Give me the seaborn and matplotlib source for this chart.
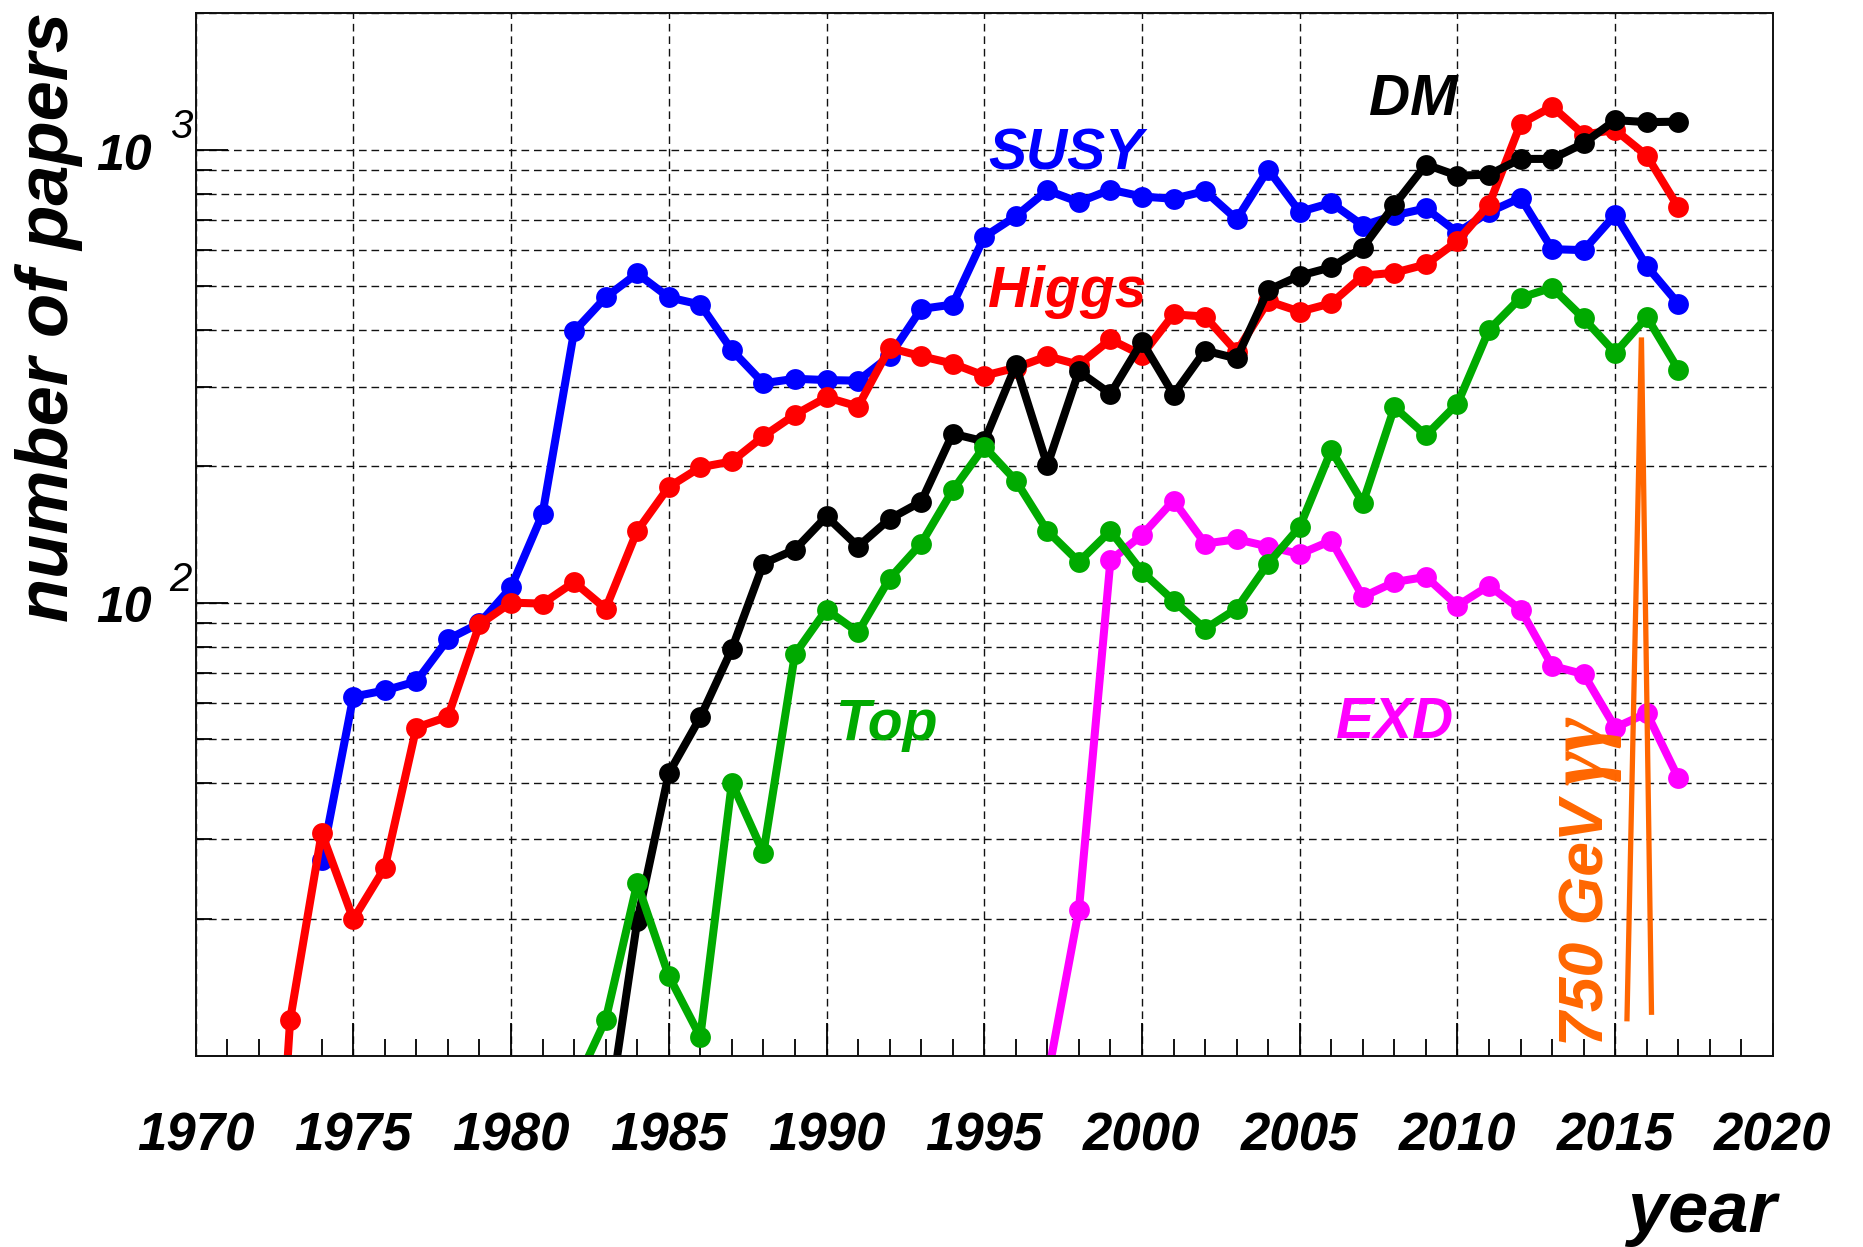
import numpy as np
import pandas as pd
import matplotlib
matplotlib.use("Agg")
import matplotlib.pyplot as plt
import matplotlib.transforms as mtransforms
from matplotlib.ticker import MultipleLocator, LogLocator, NullFormatter, FixedLocator
import seaborn as sns

sns.set_style("ticks")
plt.rcParams['font.family'] = ['Liberation Sans', 'DejaVu Sans']
plt.rcParams['font.style'] = 'italic'
plt.rcParams['font.weight'] = 'bold'
plt.rcParams['axes.labelweight'] = 'bold'
plt.rcParams['lines.scale_dashes'] = False
for key in ['text.color', 'axes.labelcolor', 'xtick.color', 'ytick.color', 'axes.edgecolor']:
    plt.rcParams[key] = 'black'

# ---------------- data ----------------
years = list(range(1970, 2018))
nan = np.nan

susy = [nan, nan, nan, nan, 27, 62, 64, 67, 83, 90,
        108, 157, 397, 472, 533, 472, 455, 361, 305, 312,
        310, 309, 350, 445, 455, 642, 713, 813, 766, 816,
        788, 779, 810, 702, 904, 729, 763, 680, 716, 742,
        656, 728, 783, 603, 600, 719, 553, 457]

higgs = [nan, nan, 1, 12, 31, 20, 26, 53, 56, 89.5,
         100, 99.5, 111, 97, 144, 180, 199, 205, 233, 260,
         284, 271, 365, 350, 337, 317, 330, 350, 335, 381,
         352, 433, 428, 358, 463, 439, 458, 527, 535, 558,
         628, 756, 1140, 1245, 1080, 1105, 970, 746]

dm = [nan] * 13 + [6.7, 19.8, 42, 55.8, 79, 122, 131,
                   155, 133, 153, 167, 236, 227, 334, 201, 324, 289,
                   377, 288, 360, 346, 490, 527, 550, 608, 755, 927,
                   876, 881, 954, 954, 1033, 1162, 1150, 1153]

top = [nan] * 12 + [8.5, 12, 24, 15, 11, 40, 28, 77,
                    96.5, 86, 113, 135, 177, 221, 186, 144, 123, 144,
                    117, 101, 87.5, 97, 122, 147, 217, 166, 270, 234,
                    275, 400, 471, 496, 424, 356, 427, 327]

exd = [nan] * 27 + [8.9, 21, 124,
                    141, 168, 135, 138, 133, 128, 137, 103, 111, 114,
                    98.5, 109, 96.5, 72.5, 69.5, 53, 57, 41]

spike_years = [2015.37, 2015.83, 2016.15]
spike_values = [11.9, 385, 12.3]

series_names = ['SUSY', 'Higgs', 'DM', 'EXD', 'Top']
series_values = [susy, higgs, dm, exd, top]
series_colors = ['#0000FF', '#FF0000', '#000000', '#FF00FF', '#00AA00']

x_tick_years = list(range(1970, 2021, 5))
y_label_exponents = [2, 3]

# long-form table
rows = []
for name, vals in zip(series_names, series_values):
    for yr, v in zip(years, vals):
        if not np.isnan(v):
            rows.append((name, yr, v))
df = pd.DataFrame(rows, columns=['topic', 'year', 'papers'])

# ---------------- figure ----------------
fig = plt.figure(figsize=(18.63, 12.47), dpi=100)
fig.patch.set_facecolor('white')
ax = fig.add_axes([0.10494, 0.15349, 0.84675, 0.83585])

ax.set_yscale('log')
ax.set_xlim(1970, 2020)
ax.set_ylim(10, 2000)

# grid
grid_kw = dict(color='#111111', linewidth=1.0, linestyle=(0, (5.5, 3.5)))
ax.xaxis.set_major_locator(FixedLocator(x_tick_years))
ax.xaxis.set_minor_locator(MultipleLocator(1))
ax.yaxis.set_major_locator(LogLocator(base=10, numticks=10))
ax.yaxis.set_minor_locator(LogLocator(base=10, subs=np.arange(2, 10), numticks=50))
ax.grid(True, which='major', axis='x', **grid_kw)
ax.grid(True, which='both', axis='y', **grid_kw)
ax.set_axisbelow(True)

sns.lineplot(data=df, x='year', y='papers', hue='topic', hue_order=series_names,
             palette=dict(zip(series_names, series_colors)), estimator=None,
             errorbar=None, marker='o', markersize=15, markeredgewidth=0,
             linewidth=5.8, legend=False, ax=ax)

sns.lineplot(x=spike_years, y=spike_values, color='#FF6600', linewidth=3.8,
             sort=False, estimator=None, errorbar=None, ax=ax,
             solid_joinstyle='bevel', solid_capstyle='butt')

# ticks
ax.tick_params(axis='x', which='major', direction='in', length=24, width=1.3,
               pad=40, labelsize=38, top=False, color='black', labelcolor='black')
ax.tick_params(axis='x', which='minor', direction='in', length=12, width=1.3,
               top=False, color='black')
ax.tick_params(axis='y', which='major', direction='in', length=23, width=1.3,
               right=False, color='black')
ax.tick_params(axis='y', which='minor', direction='in', length=11.5, width=1.3,
               right=False, color='black')
ax.set_xticklabels([str(y) for y in x_tick_years])
ax.yaxis.set_major_formatter(NullFormatter())
ax.yaxis.set_minor_formatter(NullFormatter())

for sp in ax.spines.values():
    sp.set_linewidth(1.4)
    sp.set_color('#111111')

# y tick labels 10^n
blend = mtransforms.blended_transform_factory(ax.transAxes, ax.transData)
for e in y_label_exponents:
    ax.annotate('10', xy=(0, 10 ** e), xycoords=blend, xytext=(-31.3, -14.3),
                textcoords='offset points', ha='right', va='baseline',
                fontsize=36, fontweight='bold', fontstyle='italic', color='black')
    ax.annotate(str(e), xy=(0, 10 ** e), xycoords=blend, xytext=(-18.6, 8.3),
                textcoords='offset points', ha='left', va='baseline',
                fontsize=29, fontweight='normal', fontstyle='italic', color='black')

# axis titles
ax.set_ylabel('number of papers', fontsize=52, loc='top', color='black')
ax.yaxis.set_label_coords(-0.0713, 1.0013)
ax.set_xlabel('year', fontsize=52, loc='right', color='black')
ax.xaxis.set_label_coords(1.0025, -0.1185)

# series labels
label_kw = dict(fontsize=41, fontweight='bold', fontstyle='italic',
                ha='left', va='baseline')
ax.text(1995.12, 904, 'SUSY', color='#0000FF', **label_kw)
ax.text(1995.12, 450, 'Higgs', color='#FF0000', **label_kw)
ax.text(2007.2, 1190, 'DM', color='#000000', **label_kw)
ax.text(1990.3, 49.7, 'Top', color='#00AA00', **label_kw)
ax.text(2006.15, 50.2, 'EXD', color='#FF00FF', **label_kw)

ax.text(2014.64, 10.5, '750 GeV', color='#FF6600', fontsize=45, fontweight='bold',
        fontstyle='italic', rotation=90, rotation_mode='anchor',
        ha='left', va='baseline')
ax.text(2014.64, 39.5, 'γγ', color='#FF6600', fontsize=60, fontweight='bold',
        fontstyle='italic', family=['Liberation Serif', 'DejaVu Serif'],
        rotation=90, rotation_mode='anchor', ha='left', va='baseline')

fig.savefig('out.png', dpi=100, facecolor='white')
